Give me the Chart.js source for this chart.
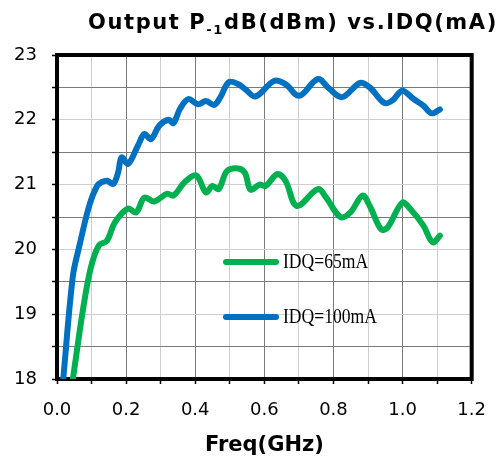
<!DOCTYPE html>
<html><head><meta charset="utf-8">
<script src="https://cdn.jsdelivr.net/npm/chart.js@4"></script>
<style>
html,body{margin:0;padding:0;background:#fff;}
#wrap{position:relative;width:502px;height:459px;overflow:hidden;}
#c{position:absolute;left:0;top:0;}
</style></head>
<body>
<div id="wrap">
<canvas id="c" width="502" height="459"></canvas>
</div>
<script>
const titleParts = ["Output P", "-1", "dB(dBm) vs.IDQ(mA)"];
const seriesNames = ["IDQ=65mA", "IDQ=100mA"];
const seriesColors = ["#00B050", "#0070C0"];
const freq65 = [0.046,0.074,0.097,0.121,0.144,0.168,0.206,0.229,0.253,0.281,0.319,0.337,0.37,0.403,0.431,0.45,0.468,0.492,0.525,0.544,0.56,0.586,0.604,0.637,0.661,0.694,0.755,0.779,0.82,0.849,0.884,0.905,0.938,0.957,0.999,1.023,1.06,1.087,1.108];
const p1dB65 = [18.0,19.03,19.7,20.06,20.13,20.42,20.63,20.57,20.8,20.74,20.86,20.83,21.04,21.14,20.88,20.98,20.93,21.21,21.25,21.18,20.92,21.0,20.98,21.16,21.06,20.67,20.93,20.8,20.5,20.57,20.83,20.67,20.31,20.34,20.72,20.62,20.37,20.11,20.21];
const freq100 = [0.018,0.046,0.065,0.093,0.116,0.13,0.145,0.163,0.177,0.187,0.206,0.234,0.253,0.272,0.296,0.323,0.337,0.356,0.38,0.408,0.431,0.455,0.473,0.497,0.525,0.545,0.575,0.628,0.661,0.701,0.755,0.788,0.825,0.877,0.905,0.947,0.971,0.999,1.032,1.06,1.084,1.108];
const p1dB100 = [18.0,19.59,20.06,20.67,20.98,21.04,21.06,21.01,21.19,21.42,21.32,21.6,21.78,21.7,21.91,22.0,21.95,22.17,22.32,22.24,22.29,22.23,22.35,22.58,22.55,22.47,22.36,22.6,22.55,22.37,22.63,22.48,22.35,22.57,22.5,22.26,22.3,22.45,22.32,22.22,22.1,22.16];
const xMin = 0, xMax = 1.2, xStep = 0.1;
const yMin = 18, yMax = 23, yStep = 0.5;
const xTitle = "Freq(GHz)";

function pts(xs, ys){ return xs.map((x,i)=>({x:x,y:ys[i]})); }
function isInt(v){ return Math.abs(v - Math.round(v)) < 1e-6; }
function isEvenTenth(v){ return Math.round(v*10) % 2 === 0; }

const framePlugin = {
  id:'frame',
  beforeDatasetsDraw(chart){
    const a = chart.chartArea, ctx = chart.ctx;
    ctx.save();
    ctx.setLineDash([]);
    ctx.strokeStyle='#000'; ctx.lineWidth=4;
    ctx.strokeRect(a.left, a.top, a.right-a.left, a.bottom-a.top);
    ctx.restore();
  }
};

const textPlugin = {
  id:'texts',
  afterDraw(chart){
    const ctx = chart.ctx;
    // title with subscript
    ctx.save();
    ctx.fillStyle = '#000';
    ctx.textBaseline = 'alphabetic';
    ctx.textAlign = 'left';
    try { ctx.letterSpacing = '1.6px'; } catch(e) {}
    let x = 88; const base = 29;
    ctx.font = 'bold 21px "DejaVu Sans"';
    ctx.fillText(titleParts[0], x, base); x += ctx.measureText(titleParts[0]).width;
    ctx.font = 'bold 13px "DejaVu Sans"';
    ctx.fillText(titleParts[1], x, base + 5); x += ctx.measureText(titleParts[1]).width;
    ctx.font = 'bold 21px "DejaVu Sans"';
    ctx.fillText(titleParts[2], x, base);
    ctx.restore();
    // legend inside plot
    const rows = [262, 317];
    seriesNames.forEach((n,i)=>{
      const y = rows[i];
      ctx.save();
      ctx.strokeStyle = seriesColors[i]; ctx.lineWidth = 6; ctx.lineCap = 'round';
      ctx.beginPath(); ctx.moveTo(226, y); ctx.lineTo(276, y); ctx.stroke();
      ctx.translate(283, y);
      ctx.scale(0.88, 1);
      ctx.fillStyle = '#000';
      ctx.font = '20px "Liberation Serif"';
      ctx.textBaseline = 'middle';
      ctx.fillText(n, 0, 1);
      ctx.restore();
    });
  }
};

new Chart(document.getElementById('c'), {
  type:'line',
  data:{ datasets:[
    {label:seriesNames[1], data:pts(freq100,p1dB100), borderColor:seriesColors[1], borderWidth:6, pointRadius:0, tension:0.35, borderCapStyle:'round', borderJoinStyle:'round', fill:false},
    {label:seriesNames[0], data:pts(freq65,p1dB65), borderColor:seriesColors[0], borderWidth:6, pointRadius:0, tension:0.35, borderCapStyle:'round', borderJoinStyle:'round', fill:false}
  ]},
  options:{
    responsive:false, animation:false, devicePixelRatio:1,
    layout:{padding:{top:55,right:17,left:0,bottom:0}},
    plugins:{legend:{display:false}, title:{display:false}, tooltip:{enabled:false}},
    scales:{
      x:{type:'linear', min:xMin, max:xMax,
        afterFit(s){ s.height = 80; },
        ticks:{ stepSize:xStep, autoSkip:false, maxRotation:0, padding:16, color:'#000', font:{family:'DejaVu Sans', size:18},
          callback(v){ return isEvenTenth(v) ? v.toFixed(1) : ''; } },
        grid:{ color(ctx){ const v = ctx.tick ? ctx.tick.value : 0; return isEvenTenth(v) ? '#7a7a7a' : '#cfcfcf'; },
          lineWidth:1, tickColor:'#000', tickLength:5, tickWidth:1.5 },
        border:{display:false},
        title:{display:true, text:xTitle, color:'#000', font:{family:'DejaVu Sans', size:21, weight:'bold'}, padding:{top:4,bottom:1}}
      },
      y:{type:'linear', min:yMin, max:yMax,
        afterFit(s){ s.width = 57; },
        ticks:{ stepSize:yStep, autoSkip:false, padding:15, color:'#000', font:{family:'DejaVu Sans', size:18},
          callback(v){ return isInt(v) ? String(Math.round(v)) : ''; } },
        grid:{ color(ctx){ const v = ctx.tick ? ctx.tick.value : 0; return isInt(v) ? '#cfcfcf' : '#7a7a7a'; },
          lineWidth:1, tickColor:'#000', tickLength:5, tickWidth:1.5 },
        border:{display:false}
      }
    }
  },
  plugins:[framePlugin, textPlugin]
});
</script>
</body></html>
